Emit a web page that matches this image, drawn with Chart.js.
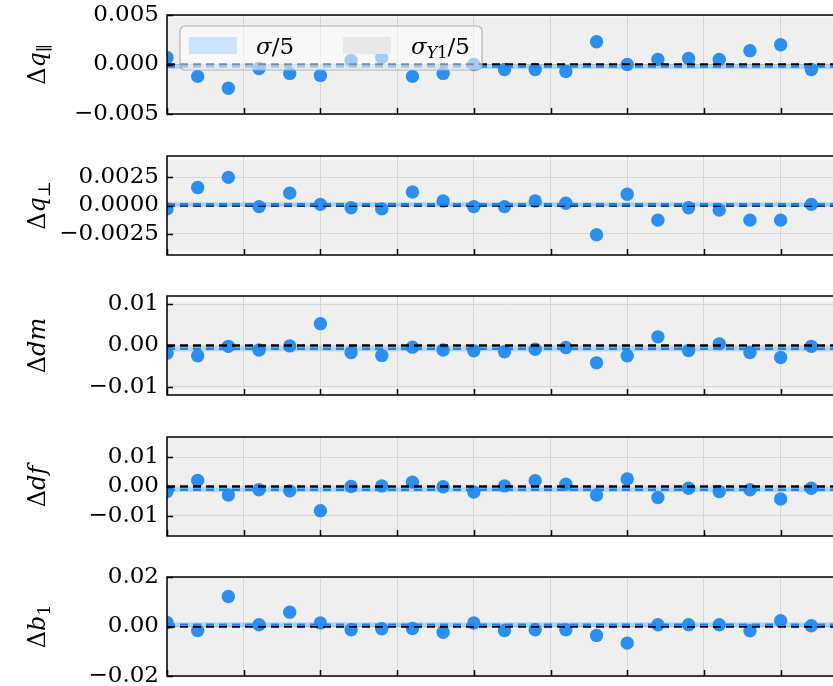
<!DOCTYPE html>
<html>
<head>
<meta charset="utf-8">
<script src="https://cdn.jsdelivr.net/npm/chart.js@4"></script>
<style>
  html, body { margin:0; padding:0; background:#fff; overflow:hidden; width:833px; height:686px; }
  #wrap { position:relative; width:900px; height:686px; }
  canvas { position:absolute; left:0; }
</style>
</head>
<body>
<div id="wrap"></div>
<script>
// ---- data ----
const xIndex = [0,1,2,3,4,5,6,7,8,9,10,11,12,13,14,15,16,17,18,19,20,21];
const dqPar  = [0.0007,-0.0012,-0.0024,-0.0004,-0.0009,-0.0011,0.0004,0.0007,-0.0012,-0.0009,0.0000,-0.0005,-0.0005,-0.0007,0.0023,0.0000,0.0005,0.0006,0.0005,0.0014,0.0020,-0.0005];
const dqPerp = [-0.0003,0.0016,0.0025,-0.0001,0.0011,0.0001,-0.0002,-0.0003,0.0012,0.0004,-0.0001,-0.0001,0.0004,0.0002,-0.0026,0.0010,-0.0013,-0.0002,-0.0004,-0.0013,-0.0013,0.0001];
const dDm    = [-0.0019,-0.0025,-0.0002,-0.0011,-0.0001,0.0053,-0.0017,-0.0024,-0.0004,-0.0011,-0.0013,-0.0015,-0.0009,-0.0005,-0.0042,-0.0025,0.0021,-0.0012,0.0004,-0.0017,-0.0029,-0.0002];
const dDf    = [-0.0017,0.0021,-0.0029,-0.0011,-0.0015,-0.0083,0.0000,0.0002,0.0015,-0.0001,-0.0019,0.0002,0.0020,0.0008,-0.0029,0.0026,-0.0038,-0.0006,-0.0017,-0.0011,-0.0043,-0.0006];
const dB1    = [0.0016,-0.0016,0.0121,0.0007,0.0058,0.0014,-0.0013,-0.0009,-0.0008,-0.0023,0.0014,-0.0016,-0.0013,-0.0013,-0.0036,-0.0067,0.0007,0.0007,0.0007,-0.0017,0.0023,0.0003];
const meanLine   = [-0.0002, 0.0001, -0.0008, -0.0011, 0.0007];   // blue dashed line per panel
const sigmaHalf  = [0.00025, 0.0002, 0.0006, 0.0008, 0.0010];     // σ/5 band half-width
const sigmaY1Half= [0.0047, 0.0040, 0.0105, 0.0165, 0.021];       // σ_Y1/5 band half-width
const yLimit     = [0.005, 0.0044, 0.012, 0.017, 0.02];
const yStep      = [0.005, 0.0025, 0.01, 0.01, 0.02];
const yDecimals  = [3, 4, 2, 2, 2];
const xRange = [0, 22];
const xStep = 2.5;
const yTitles = [
  [{t:'Δ'},{t:'q',i:1},{t:'∥',sub:1}],
  [{t:'Δ'},{t:'q',i:1},{t:'⊥',sub:1}],
  [{t:'Δ'},{t:'dm',i:1}],
  [{t:'Δ'},{t:'df',i:1}],
  [{t:'Δ'},{t:'b',i:1},{t:'1',sub:1}]
];
const series = [dqPar, dqPerp, dDm, dDf, dB1];

// ---- styling ----
const FONT = '"DejaVu Serif", serif';
const POINT_COLOR = '#2b8ff0';
const LINE_BLUE = '#1f86ee';
const FACE = '#f7f7f7';
const BAND_GREY = '#efefef';
const BAND_BLUE = 'rgba(40,140,250,0.28)';
const GRID = '#d6d6d6';
const PANEL_TOP0 = 15, PANEL_PITCH = 140.6, PANEL_H = 99, PAD = 22;
const LEFT = 167, CANVAS_W = 842;

function drawMath(ctx, parts, size, x, y) {
  ctx.save();
  ctx.translate(x, y);
  ctx.rotate(-Math.PI/2);
  const fontOf = p => (p.i ? 'italic ' : '') + (p.sub ? Math.round(size*0.7) : size) + 'px ' + FONT;
  let total = 0;
  parts.forEach(p => { ctx.font = fontOf(p); total += ctx.measureText(p.t).width; });
  let u = -total/2;
  ctx.fillStyle = '#000';
  ctx.textBaseline = 'alphabetic';
  ctx.textAlign = 'left';
  parts.forEach(p => {
    ctx.font = fontOf(p);
    ctx.fillText(p.t, u, p.sub ? size*0.22 : 0);
    u += ctx.measureText(p.t).width;
  });
  ctx.restore();
}

const panelPlugin = {
  id: 'panelPlugin',
  beforeDraw(chart) {
    const o = chart.options.plugins.panelPlugin;
    const {ctx, chartArea: a, scales: {y}} = chart;
    ctx.save();
    ctx.fillStyle = FACE;
    ctx.fillRect(a.left, a.top, a.right - a.left, a.bottom - a.top);
    ctx.beginPath(); ctx.rect(a.left, a.top, a.right - a.left, a.bottom - a.top); ctx.clip();
    const t = y.getPixelForValue(o.greyHalf), b = y.getPixelForValue(-o.greyHalf);
    ctx.fillStyle = BAND_GREY;
    ctx.fillRect(a.left, t, a.right - a.left, b - t);
    ctx.restore();
  },
  beforeDatasetsDraw(chart) {
    const o = chart.options.plugins.panelPlugin;
    const {ctx, chartArea: a, scales: {y}} = chart;
    ctx.save();
    const t = y.getPixelForValue(o.mean + o.blueHalf), b = y.getPixelForValue(o.mean - o.blueHalf);
    ctx.fillStyle = BAND_BLUE;
    ctx.fillRect(a.left, t, a.right - a.left, b - t);
    ctx.restore();
  },
  afterDraw(chart) {
    const o = chart.options.plugins.panelPlugin;
    const {ctx, chartArea: a, scales: {x, y}} = chart;
    ctx.save();
    ctx.strokeStyle = '#000';
    ctx.lineWidth = 1.5;
    ctx.beginPath();
    x.ticks.forEach(tk => {
      const px = Math.round(x.getPixelForValue(tk.value)) + 0.5;
      ctx.moveTo(px, a.bottom); ctx.lineTo(px, a.bottom - 6);
    });
    y.ticks.forEach(tk => {
      const py = Math.round(y.getPixelForValue(tk.value)) + 0.5;
      ctx.moveTo(a.left, py); ctx.lineTo(a.left + 6, py);
    });
    ctx.stroke();
    ctx.strokeRect(a.left, a.top, a.right - a.left, a.bottom - a.top);
    ctx.restore();
    drawMath(ctx, o.title, 24, 45, (a.top + a.bottom)/2);
    if (o.legend) {
      ctx.save();
      const lx = a.left + 13, ly = a.top + 11, lw = 302, lh = 44, r = 5;
      ctx.beginPath();
      ctx.roundRect(lx, ly, lw, lh, r);
      ctx.fillStyle = 'rgba(255,255,255,0.55)';
      ctx.fill();
      ctx.strokeStyle = 'rgba(170,170,170,0.9)';
      ctx.lineWidth = 1.2;
      ctx.stroke();
      ctx.fillStyle = '#cde3fa';
      ctx.fillRect(lx + 9, ly + 11, 48, 17);
      ctx.fillStyle = '#e8e8e8';
      ctx.fillRect(lx + 163, ly + 11, 48, 17);
      ctx.fillStyle = '#000';
      ctx.textBaseline = 'alphabetic';
      const base = ly + 28;
      ctx.font = 'italic 23px ' + FONT;
      ctx.fillText('σ', lx + 76, base);
      const w = ctx.measureText('σ').width;
      ctx.font = '23px ' + FONT;
      ctx.fillText('/5', lx + 76 + w, base);
      let px = lx + 231;
      ctx.font = 'italic 23px ' + FONT;
      ctx.fillText('σ', px, base); px += ctx.measureText('σ').width;
      ctx.font = 'italic 16px ' + FONT;
      ctx.fillText('Y', px, base + 4); px += ctx.measureText('Y').width;
      ctx.font = '16px ' + FONT;
      ctx.fillText('1', px, base + 4); px += ctx.measureText('1').width;
      ctx.font = '23px ' + FONT;
      ctx.fillText('/5', px, base);
      ctx.restore();
    }
  }
};

const wrap = document.getElementById('wrap');
series.forEach((vals, k) => {
  const cv = document.createElement('canvas');
  const h = PANEL_H + 2*PAD;
  cv.width = CANVAS_W; cv.height = h;
  cv.style.width = CANVAS_W + 'px'; cv.style.height = h + 'px';
  cv.style.top = (PANEL_TOP0 + k*PANEL_PITCH - PAD) + 'px';
  wrap.appendChild(cv);
  const pts = xIndex.map((xi, j) => ({x: xi, y: vals[j]}));
  new Chart(cv, {
    type: 'scatter',
    data: {
      datasets: [
        { type:'line', data:[{x:xRange[0], y:0},{x:xRange[1], y:0}], borderColor:'#000', borderWidth:2.6,
          borderDash:[8,5], pointRadius:0, order:1, clip:0 },
        { type:'line', data:[{x:xRange[0], y:meanLine[k]},{x:xRange[1], y:meanLine[k]}], borderColor:LINE_BLUE, borderWidth:2.6,
          borderDash:[8,5], pointRadius:0, order:0, clip:0 },
        { data: pts, backgroundColor: POINT_COLOR, borderWidth:0, pointRadius:6.7, pointHoverRadius:6.7, order:2, clip:0 }
      ]
    },
    options: {
      responsive:false, maintainAspectRatio:false, animation:false, devicePixelRatio:1,
      layout: { autoPadding:false, padding: { top: PAD, bottom: PAD, left: 0, right: 0 } },
      events: [],
      plugins: {
        legend:{display:false}, tooltip:{enabled:false}, title:{display:false},
        panelPlugin: { title: yTitles[k], greyHalf: sigmaY1Half[k], blueHalf: sigmaHalf[k], mean: meanLine[k], legend: k === 0 }
      },
      scales: {
        x: {
          type:'linear', min:xRange[0], max:xRange[1], bounds:'data',
          ticks:{ display:false, stepSize:xStep, includeBounds:false },
          grid:{ color:GRID, lineWidth:1, drawTicks:false },
          border:{ display:false },
          afterFit(s){ s.height = 0; }
        },
        y: {
          type:'linear', min:-yLimit[k], max:yLimit[k],
          ticks:{ stepSize:yStep[k], includeBounds:false, padding:8, color:'#000',
                  font:{ family:FONT, size:23 },
                  callback(v){ const s = Math.abs(v) < 1e-12 ? (0).toFixed(yDecimals[k]) : Math.abs(v).toFixed(yDecimals[k]); return (v < -1e-12 ? '\u2212' : '') + s; } },
          grid:{ color:GRID, lineWidth:1, drawTicks:false },
          border:{ display:false },
          afterFit(s){ s.width = LEFT; }
        }
      }
    },
    plugins:[panelPlugin]
  });
});
</script>
</body>
</html>
